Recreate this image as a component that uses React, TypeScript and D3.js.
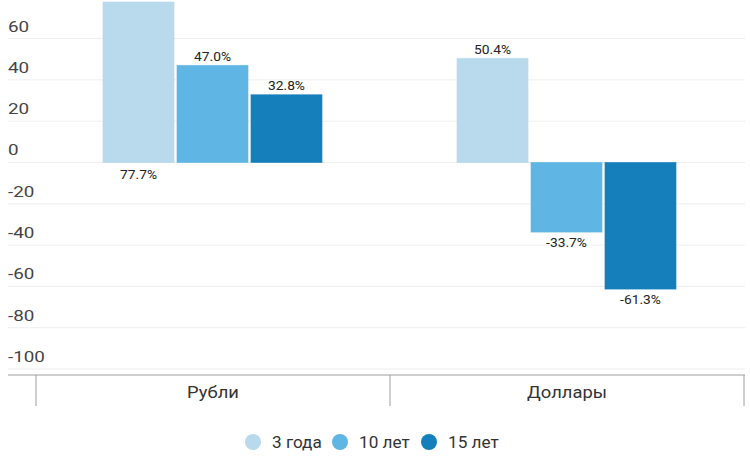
import React from "react";
import * as d3 from "d3";

const categories = ["Рубли", "Доллары"];
const seriesNames = ["3 года", "10 лет", "15 лет"];
const seriesColors = ["#b9d9ed", "#5fb6e4", "#157fbc"];
const rubValues = [77.7, 47.0, 32.8];
const usdValues = [50.4, -33.7, -61.3];
const yTicks = [60, 40, 20, 0, -20, -40, -60, -80, -100];

const W = 750;
const H = 458;

export default function App() {
  const values = [rubValues, usdValues];
  const y = d3.scaleLinear().domain([-102.9, 77.7]).range([375, 2]);
  const x0 = d3.scaleBand().domain(categories).range([36, 744]).paddingInner(0).paddingOuter(0);
  const x1 = d3
    .scaleBand()
    .domain(seriesNames)
    .range([67, 286])
    .paddingInner(0.04)
    .paddingOuter(0);
  const font = "Roboto, sans-serif";
  const legendX = [253, 340, 429];

  return (
    <svg
      width={W}
      height={H}
      style={{ position: "absolute", left: 0, top: 0, fontFamily: font }}
    >
      {yTicks.map((t) => (
        <g key={t}>
          <line x1={8} x2={745} y1={y(t)} y2={y(t)} stroke="#eeeeee" strokeWidth={1} />
          <text
            transform={`translate(8,${y(t) - 7}) scale(1.3,1)`}
            fontSize={14.5}
            fill="#444"
          >
            {t}
          </text>
        </g>
      ))}
      {categories.map((c, ci) => (
        <g key={c} transform={`translate(${x0(c)},0)`}>
          {seriesNames.map((s, si) => {
            const v = values[ci][si];
            const bx = x1(s)!;
            const bw = x1.bandwidth();
            const top = y(Math.max(0, v));
            const h = Math.abs(y(v) - y(0));
            const labelY =
              v >= 0 ? (top < 30 ? y(0) + 17 : top - 4.5) : y(v) + 15;
            return (
              <g key={s}>
                <rect
                  x={bx}
                  y={top}
                  width={bw}
                  height={h}
                  fill={seriesColors[si]}
                  stroke={seriesColors[si]}
                  strokeOpacity={0.6}
                />
                <text
                  transform={`translate(${bx + bw / 2},${labelY}) scale(1.15,1)`}
                  textAnchor="middle"
                  fontSize={12}
                  fill="#222"
                >
                  {v.toFixed(1)}%
                </text>
              </g>
            );
          })}
        </g>
      ))}
      <line x1={8} x2={745} y1={375} y2={375} stroke="#9e9e9e" strokeWidth={1} />
      {[36, 390, 744].map((xx) => (
        <line key={xx} x1={xx} x2={xx} y1={375} y2={406} stroke="#9e9e9e" strokeWidth={1} />
      ))}
      {categories.map((c) => (
        <text
          key={c}
          transform={`translate(${x0(c)! + x0.bandwidth() / 2},397.5) scale(1.08,1)`}
          textAnchor="middle"
          fontSize={17}
          fill="#333"
        >
          {c}
        </text>
      ))}
      {seriesNames.map((s, i) => (
        <g key={s}>
          <circle cx={legendX[i]} cy={442} r={8} fill={seriesColors[i]} />
          <text
            transform={`translate(${legendX[i] + 19},448) scale(1.04,1)`}
            fontSize={16.5}
            fill="#333"
          >
            {s}
          </text>
        </g>
      ))}
    </svg>
  );
}
